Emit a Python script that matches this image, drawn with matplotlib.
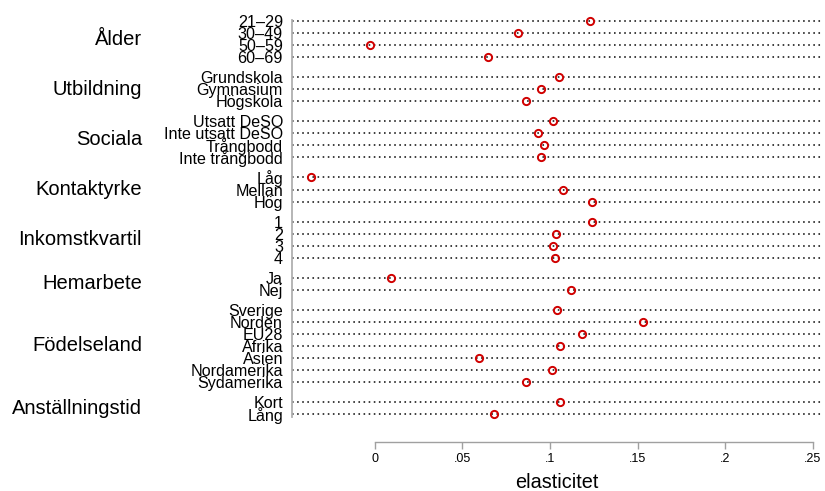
import matplotlib
matplotlib.use('Agg')
from matplotlib import pyplot as plt
from matplotlib.transforms import blended_transform_factory

plt.rcParams['font.family'] = ['Liberation Sans', 'DejaVu Sans']

# grupper och kategorier (uppifrån och ned)
groups = ['Ålder', 'Utbildning', 'Sociala', 'Kontaktyrke',
          'Inkomstkvartil', 'Hemarbete', 'Födelseland', 'Anställningstid']
alder = ['21–29', '30–49', '50–59', '60–69']
utbildning = ['Grundskola', 'Gymnasium', 'Högskola']
sociala = ['Utsatt DeSO', 'Inte utsatt DeSO', 'Trångbodd', 'Inte trångbodd']
kontaktyrke = ['Låg', 'Mellan', 'Hög']
inkomst = ['1', '2', '3', '4']
hemarbete = ['Ja', 'Nej']
fodelseland = ['Sverige', 'Norden', 'EU28', 'Afrika', 'Asien',
               'Nordamerika', 'Sydamerika']
anstallning = ['Kort', 'Lång']

# elasticiteter
v_alder = [0.1230, 0.0815, -0.0030, 0.0646]
v_utbildning = [0.1051, 0.0949, 0.0863]
v_sociala = [0.1019, 0.0930, 0.0964, 0.0947]
v_kontaktyrke = [-0.0366, 0.1072, 0.1240]
v_inkomst = [0.1242, 0.1034, 0.1019, 0.1030]
v_hemarbete = [0.0090, 0.1118]
v_fodelseland = [0.1038, 0.1530, 0.1185, 0.1057, 0.0596, 0.1013, 0.0865]
v_anstallning = [0.1059, 0.0678]

xticks = [0, 0.05, 0.10, 0.15, 0.20, 0.25]
xticklabels = ['0', '.05', '.1', '.15', '.2', '.25']

cats = [alder, utbildning, sociala, kontaktyrke, inkomst, hemarbete,
        fodelseland, anstallning]
vals = [v_alder, v_utbildning, v_sociala, v_kontaktyrke, v_inkomst,
        v_hemarbete, v_fodelseland, v_anstallning]

gap = 0.67
pos, labels, values, centers = [], [], [], []
y = 0.0
for c, v in zip(cats, vals):
    start = y
    for lab, val in zip(c, v):
        pos.append(y)
        labels.append(lab)
        values.append(val)
        y += 1
    centers.append((start + y - 1) / 2)
    y += gap
last = pos[-1]

fig = plt.figure(figsize=(8.25, 4.91), dpi=100)
W, H = 825, 491
ax = fig.add_axes([292 / W, 1 - 425 / H, 530 / W, 410 / H])

for p in pos:
    ax.axhline(p, color='#111111', lw=1.15, linestyle=(0, (1, 2.2)), zorder=1)
ax.plot(values, pos, 'o', ms=5.2, mfc='none', mec='#d00000', mew=1.4,
        zorder=3, clip_on=False)

ax.set_xlim(-0.0474, 0.2554)
ax.set_ylim(last + 0.9, -0.5)

for s in ['top', 'right']:
    ax.spines[s].set_visible(False)
ax.spines['left'].set_color('#b0b0b0')
ax.spines['left'].set_linewidth(1.3)
ax.spines['left'].set_bounds(-0.1, last + 0.25)
ax.spines['bottom'].set_color('#a0a0a0')
ax.spines['bottom'].set_linewidth(1.0)
ax.spines['bottom'].set_position(('outward', 12.2))
ax.spines['bottom'].set_bounds(0, 0.25)

ax.set_yticks(pos, labels)
ax.tick_params(axis='y', length=0, pad=6.5, labelsize=11.6)

ax.set_xticks(xticks, xticklabels)
ax.tick_params(axis='x', direction='out', length=5, width=1.0,
               color='#a0a0a0', labelsize=9, pad=3)
ax.set_xlabel('elasticitet', fontsize=14.3, labelpad=5.5)

trans = blended_transform_factory(ax.transAxes, ax.transData)
for g, cy in zip(groups, centers):
    ax.text((142 - 292) / 530, cy, g, transform=trans, ha='right',
            va='center', fontsize=14.5)

fig.savefig('out.png', dpi=100)
